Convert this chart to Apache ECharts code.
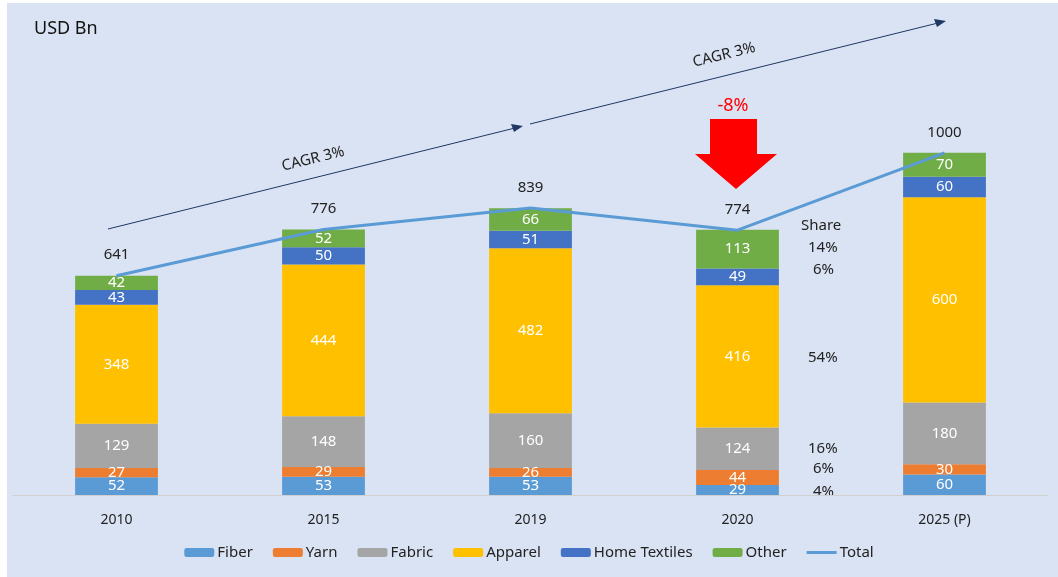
<!DOCTYPE html>
<html>
<head>
<meta charset="utf-8">
<script src="https://cdn.jsdelivr.net/npm/echarts@6/dist/echarts.min.js"></script>
<style>
  html, body { margin: 0; padding: 0; background: #fff; }
  #chart { width: 1058px; height: 577px; }
</style>
</head>
<body>
<div id="chart"></div>
<script>
const years = ['2010', '2015', '2019', '2020', '2025 (P)']
const fiber = [52, 53, 53, 29, 60]
const yarn = [27, 29, 26, 44, 30]
const fabric = [129, 148, 160, 124, 180]
const apparel = [348, 444, 482, 416, 600]
const homeTextiles = [43, 50, 51, 49, 60]
const other = [42, 52, 66, 113, 70]
const total = [641, 776, 839, 774, 1000]
const shareLabels = ['Share', '14%', '6%', '54%', '16%', '6%', '4%']

const font = 'Noto Sans'
let chart = echarts.init(document.getElementById('chart'))

function barSeries(name, data, color) {
  return {
    name: name,
    type: 'bar',
    stack: 'all',
    barWidth: '40%',
    data: data,
    itemStyle: { color: color },
    label: {
      show: true,
      position: 'inside',
      color: '#fff',
      fontFamily: font,
      fontSize: 15,
    },
  }
}

// share column next to 2020
const shareY = [228, 250, 272, 360, 451, 471, 494]
const shareText = shareLabels.map((t, i) => ({
  type: 'text',
  left: i === 0 ? 801 : (t.length === 2 ? 813 : 808),
  top: shareY[i] - 10,
  style: { text: t, fill: '#222', font: '15px "Noto Sans"' },
}))

chart.setOption({
  backgroundColor: '#fff',
  animation: false,
  grid: { left: 13, right: 10, top: 16, bottom: 82 },
  legend: {
    bottom: 12,
    left: 'center',
    itemWidth: 30,
    itemHeight: 9,
    itemGap: 20,
    textStyle: { fontFamily: font, fontSize: 15, color: '#222', padding: [0, 0, 0, -2] },
    data: ['Fiber', 'Yarn', 'Fabric', 'Apparel', 'Home Textiles', 'Other',
      { name: 'Total', icon: 'path://M0,0 H30 V3 H0 Z' }],
  },
  xAxis: {
    type: 'category',
    data: years,
    axisLine: { lineStyle: { color: '#d0d0d0' } },
    axisTick: { show: false },
    axisLabel: { color: '#222', fontFamily: font, fontSize: 14, margin: 18 },
  },
  yAxis: {
    type: 'value',
    min: 0,
    max: 1400,
    show: false,
  },
  graphic: [
    { type: 'rect', z: -10, shape: { x: 7, y: 3, width: 1051, height: 574 }, style: { fill: '#dae3f3' } },
    { type: 'text', left: 34, top: 20, style: { text: 'USD Bn', fill: '#111', font: '18px "Noto Sans"' } },
    // CAGR arrows
    { type: 'line', shape: { x1: 108, y1: 229, x2: 515, y2: 128 }, style: { stroke: '#1f3864', lineWidth: 1 } },
    { type: 'polygon', shape: { points: [[523, 126], [511, 124], [514, 132]] }, style: { fill: '#1f3864' } },
    { type: 'line', shape: { x1: 530, y1: 124, x2: 938, y2: 23 }, style: { stroke: '#1f3864', lineWidth: 1 } },
    { type: 'polygon', shape: { points: [[946, 21], [934, 19], [937, 27]] }, style: { fill: '#1f3864' } },
    { type: 'text', x: 313, y: 159, rotation: 0.24, style: { text: 'CAGR 3%', fill: '#222', font: '15px "Noto Sans"', align: 'center', verticalAlign: 'middle' } },
    { type: 'text', x: 724, y: 55, rotation: 0.24, style: { text: 'CAGR 3%', fill: '#222', font: '15px "Noto Sans"', align: 'center', verticalAlign: 'middle' } },
    // red drop arrow
    {
      type: 'polygon',
      shape: { points: [[710, 119], [757, 119], [757, 154], [777, 154], [736, 189], [695, 154], [710, 154]] },
      style: { fill: '#ff0000' },
    },
    { type: 'text', x: 733, y: 106, style: { text: '-8%', fill: '#ff0000', font: '18px "Noto Sans"', align: 'center', verticalAlign: 'middle' } },
  ].concat(shareText),
  series: [
    barSeries('Fiber', fiber, '#5b9bd5'),
    barSeries('Yarn', yarn, '#ed7d31'),
    barSeries('Fabric', fabric, '#a5a5a5'),
    barSeries('Apparel', apparel, '#ffc000'),
    barSeries('Home Textiles', homeTextiles, '#4472c4'),
    barSeries('Other', other, '#70ad47'),
    {
      name: 'Total',
      type: 'line',
      data: total,
      symbol: 'circle',
      symbolSize: 0,
      lineStyle: { color: '#5b9bd5', width: 3 },
      itemStyle: { color: '#5b9bd5' },
      z: 5,
      label: {
        show: true,
        position: 'top',
        distance: 13,
        color: '#222',
        fontFamily: font,
        fontSize: 15,
      },
    },
  ],
})
</script>
</body>
</html>
